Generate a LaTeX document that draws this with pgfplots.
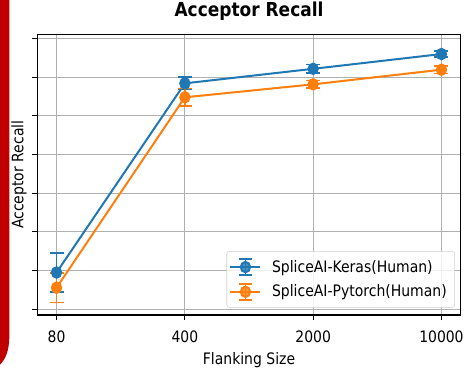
\documentclass[border=0pt]{standalone}
\usepackage{fontspec}
\setmainfont{DejaVu Sans}[FakeStretch=0.885]
\usepackage{pgfplots}
\usepackage{pgfplotstable}
\pgfplotsset{compat=1.18}

\definecolor{tabblue}{HTML}{1F77B4}
\definecolor{taborange}{HTML}{FF7F0E}
\definecolor{gridgray}{HTML}{B0B0B0}
\definecolor{bandred}{RGB}{192,0,0}

% flanking size index, mean recall, error half-width
\pgfplotstableread{
x y e
0 0.951 0.504
1 5.838 0.160
2 6.213 0.110
3 6.595 0.080
}\keras
\pgfplotstableread{
x y e
0 0.558 0.387
1 5.477 0.230
2 5.812 0.100
3 6.190 0.100
}\pytorch

% legend symbol: line, marker and capped error bar
\newcommand{\errlegend}[1]{%
  \draw[#1, line width=1.5pt] (0pt,0pt) -- (22.5pt,0pt);
  \draw[#1, line width=1.2pt] (11.25pt,-6pt) -- (11.25pt,6pt);
  \draw[#1, line width=1.2pt] (6.4pt,6pt) -- (16.1pt,6pt);
  \draw[#1, line width=1.2pt] (6.4pt,-6pt) -- (16.1pt,-6pt);
  \fill[#1] (11.25pt,0pt) ellipse (3.5pt and 3.9pt);
}

\begin{document}
\begin{tikzpicture}
\useasboundingbox (0,0) rectangle (348pt,277.5pt);
% red band along the left edge
\fill[bandred] (0,277.5pt) -- (7pt,277.5pt) -- (7pt,26pt)
  .. controls (7pt,14pt) and (4pt,8pt) .. (0,4pt) -- cycle;
\begin{axis}[
  at={(27.98pt,41.25pt)}, anchor=south west,
  scale only axis, width=317.55pt, height=210.5pt,
  xmin=-0.15, xmax=3.15, ymin=-0.147, ymax=7.104,
  xtick={0,1,2,3}, xticklabels={80,400,2000,10000},
  ytick={0,1,2,3,4,5,6,7}, yticklabels={{},{},{},{},{},{},{},{}},
  tick align=outside, tick pos=left,
  major tick length=3.75pt,
  every tick/.style={black, line width=0.8pt},
  axis line style={black, line width=0.8pt},
  grid=major,
  major grid style={gridgray, line width=0.8pt},
  /pgf/number format/assume math mode=true,
  ticklabel style={font=\fontsize{11.8}{14}\selectfont},
  xticklabel style={anchor=base, yshift=-17pt},
  title={Acceptor Recall},
  title style={at={(0.5,1)}, anchor=base, yshift=7pt,
    font=\bfseries\fontsize{14.4}{17}\selectfont},
  xlabel={Flanking Size},
  xlabel style={at={(0.5,0)}, anchor=base, yshift=-37pt,
    font=\fontsize{11.85}{14}\selectfont},
  legend style={at={(0.9865,0.026)}, anchor=south east,
    draw=gridgray!60, fill=white, fill opacity=0.8, text opacity=1,
    rounded corners=2pt, inner xsep=2pt, inner ysep=4.5pt,
    row sep=4pt, column sep=4pt,
    nodes={inner xsep=4pt},
    font=\fontsize{11.85}{14}\selectfont},
  legend cell align=left,
]
\addplot[tabblue, line width=1.5pt, mark=*, mark size=3.5pt,
  mark options={solid, yscale=1.12},
  legend image code/.code={\errlegend{tabblue}},
  error bars/.cd, y dir=both, y explicit,
  error bar style={line width=1.2pt},
  error mark options={rotate=90, mark size=5.25pt, line width=1.2pt}]
  table[x=x, y=y, y error=e]{\keras};
\addlegendentry{SpliceAI-Keras(Human)}
\addplot[taborange, line width=1.5pt, mark=*, mark size=3.5pt,
  mark options={solid, yscale=1.12},
  legend image code/.code={\errlegend{taborange}},
  error bars/.cd, y dir=both, y explicit,
  error bar style={line width=1.2pt},
  error mark options={rotate=90, mark size=5.25pt, line width=1.2pt}]
  table[x=x, y=y, y error=e]{\pytorch};
\addlegendentry{SpliceAI-Pytorch(Human)}
\end{axis}
% y-axis title, baseline just left of the tick marks
\node[rotate=90, anchor=base, font=\fontsize{11.85}{14}\selectfont]
  at (17.5pt,146.5pt) {Acceptor Recall};
\end{tikzpicture}
\end{document}
